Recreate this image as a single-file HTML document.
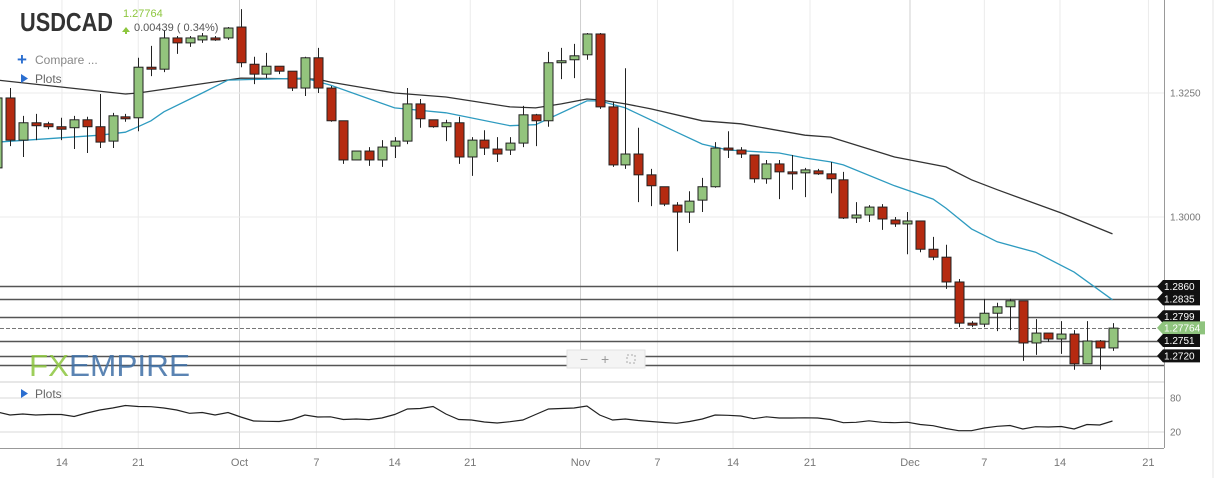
<!DOCTYPE html>
<html><head><meta charset="utf-8"><style>
html,body{margin:0;padding:0;background:#fff;}
svg{display:block;font-family:"Liberation Sans",sans-serif;}
</style></head><body>
<svg id="chart" width="1216" height="478" viewBox="0 0 1216 478" xmlns="http://www.w3.org/2000/svg">
<g id="grid"></g>
<g id="levels"></g>
<g id="ma"></g>
<g id="candles"></g>
<g id="osc"></g>
<g id="axes"></g>
<g>
  <text x="20" y="31" font-size="26" font-weight="bold" fill="#333" textLength="93" lengthAdjust="spacingAndGlyphs">USDCAD</text>
  <text x="123" y="17" font-size="11" fill="#8dc63f">1.27764</text>
  <polygon points="122,32 126,27 130,32" fill="#8dc63f"/>
  <rect x="125" y="31" width="2" height="3" fill="#8dc63f"/>
  <text x="134" y="31" font-size="11" fill="#555">0.00439 ( 0.34%)</text>
  <g>
    <text x="17" y="65" font-size="17" fill="#2a6ed0" font-weight="bold">+</text>
    <text x="35" y="64" font-size="12" fill="#888">Compare ...</text>
  </g>
  <g>
    <polygon points="21,74 21,83 28,78.5" fill="#2a6ed0"/>
    <text x="35" y="83" font-size="12" fill="#666">Plots</text>
  </g>
</g>
<g opacity="0.85">
  <text x="29" y="376" font-size="31" fill="#8dc63f" textLength="40" lengthAdjust="spacingAndGlyphs">FX</text>
  <text x="69" y="376" font-size="31" fill="#3f6fa6" textLength="121" lengthAdjust="spacingAndGlyphs">EMPIRE</text>
</g>
<g>
  <rect x="567" y="350" width="78" height="18" fill="#f4f4f4" stroke="#e2e2e2"/>
  <text x="580" y="364" font-size="14" fill="#999">−</text>
  <text x="601" y="364" font-size="14" fill="#999">+</text>
  <rect x="627" y="355" width="8" height="8" fill="none" stroke="#aaa" stroke-dasharray="2,2"/>
</g>
<g>
  <polygon points="21,389 21,398 28,393.5" fill="#2a6ed0"/>
  <text x="35" y="398" font-size="12" fill="#666">Plots</text>
</g>
</svg>
<script>
const opens=[1.3099,1.3240,1.3155,1.3190,1.3188,1.3182,1.3180,1.3196,1.3182,1.3153,1.3202,1.3200,1.3302,1.3298,1.3361,1.3351,1.3357,1.3361,1.3361,1.3383,1.3308,1.3288,1.3304,1.3294,1.3260,1.3321,1.3260,1.3194,1.3115,1.3133,1.3115,1.3143,1.3153,1.3228,1.3196,1.3182,1.3190,1.3121,1.3155,1.3137,1.3135,1.3149,1.3206,1.3194,1.3311,1.3317,1.3327,1.3369,1.3222,1.3105,1.3127,1.3085,1.3061,1.3024,1.3010,1.3034,1.3061,1.3139,1.3135,1.3125,1.3077,1.3107,1.3091,1.3089,1.3093,1.3087,1.3075,1.2998,1.3004,1.3020,1.2994,1.2986,1.2992,1.2935,1.2919,1.2869,1.2786,1.2784,1.2806,1.2819,1.2831,1.2746,1.2766,1.2754,1.2764,1.2704,1.2750,1.2736];
const highs=[1.3244,1.3260,1.3204,1.3208,1.3192,1.3200,1.3204,1.3202,1.3248,1.3210,1.3208,1.3321,1.3345,1.3377,1.3365,1.3365,1.3371,1.3365,1.3383,1.3419,1.3323,1.3331,1.3304,1.3294,1.3323,1.3341,1.3264,1.3194,1.3133,1.3141,1.3155,1.3161,1.3260,1.3238,1.3196,1.3196,1.3202,1.3161,1.3175,1.3161,1.3161,1.3224,1.3208,1.3333,1.3341,1.3349,1.3371,1.3371,1.3232,1.3300,1.3180,1.3097,1.3061,1.3030,1.3052,1.3079,1.3151,1.3173,1.3141,1.3125,1.3115,1.3115,1.3125,1.3099,1.3097,1.3111,1.3091,1.3030,1.3024,1.3026,1.3000,1.3010,1.2992,1.2960,1.2944,1.2875,1.2790,1.2835,1.2827,1.2835,1.2831,1.2794,1.2766,1.2790,1.2772,1.2790,1.2752,1.2786];
const lows=[1.3095,1.3143,1.3121,1.3155,1.3177,1.3155,1.3137,1.3129,1.3139,1.3139,1.3192,1.3173,1.3284,1.3292,1.3329,1.3343,1.3351,1.3355,1.3357,1.3302,1.3268,1.3280,1.3288,1.3254,1.3244,1.3250,1.3192,1.3107,1.3115,1.3103,1.3101,1.3119,1.3147,1.3180,1.3180,1.3153,1.3107,1.3083,1.3125,1.3111,1.3125,1.3141,1.3143,1.3182,1.3278,1.3280,1.3317,1.3218,1.3101,1.3097,1.3030,1.3022,1.3022,1.2931,1.2988,1.3010,1.3059,1.3119,1.3119,1.3069,1.3067,1.3036,1.3055,1.3040,1.3085,1.3048,1.2996,1.2988,1.2990,1.2974,1.2980,1.2925,1.2929,1.2913,1.2855,1.2778,1.2778,1.2778,1.2770,1.2772,1.2710,1.2722,1.2748,1.2724,1.2692,1.2704,1.2692,1.2730];
const closes=[1.3240,1.3155,1.3190,1.3184,1.3182,1.3177,1.3196,1.3182,1.3151,1.3204,1.3198,1.3302,1.3298,1.3361,1.3351,1.3361,1.3365,1.3357,1.3381,1.3311,1.3288,1.3304,1.3294,1.3260,1.3321,1.3260,1.3194,1.3115,1.3133,1.3115,1.3141,1.3153,1.3228,1.3198,1.3182,1.3190,1.3121,1.3155,1.3139,1.3127,1.3149,1.3206,1.3194,1.3311,1.3315,1.3325,1.3369,1.3222,1.3105,1.3127,1.3085,1.3063,1.3026,1.3010,1.3032,1.3061,1.3139,1.3135,1.3127,1.3077,1.3107,1.3091,1.3087,1.3095,1.3087,1.3077,1.2998,1.3004,1.3020,1.2996,1.2986,1.2992,1.2935,1.2919,1.2869,1.2786,1.2782,1.2806,1.2819,1.2831,1.2746,1.2766,1.2754,1.2764,1.2704,1.2750,1.2736,1.2776];
const maSlowIdx=[0,10,11,19,25,26,31,35,40,42,44,46,47,49,51,55,58,63,65,70,74,76,78,83,87];
const maSlowVal=[1.3276,1.3248,1.3250,1.3280,1.3278,1.3272,1.3250,1.3242,1.3222,1.3220,1.3228,1.3238,1.3236,1.3228,1.3218,1.3194,1.3188,1.3165,1.3161,1.3121,1.3101,1.3075,1.3055,1.3008,1.2966];
const maFastIdx=[0,8,10,11,12,13,16,18,24,26,31,35,40,42,46,47,49,53,55,57,61,63,65,66,70,73,74,76,78,81,84,87];
const maFastVal=[1.3151,1.3165,1.3171,1.3182,1.3194,1.3212,1.3250,1.3276,1.3280,1.3266,1.3220,1.3210,1.3184,1.3186,1.3234,1.3234,1.3220,1.3171,1.3147,1.3135,1.3129,1.3119,1.3111,1.3105,1.3063,1.3036,1.3018,1.2976,1.2950,1.2929,1.2889,1.2833];
const oscVals=[55.3,50.0,51.8,50.0,50.9,50.9,47.4,53.5,58.8,62.4,66.8,65.0,64.6,62.4,58.8,53.0,54.4,50.0,54.4,46.5,39.4,38.9,38.5,42.1,50.0,46.5,46.8,42.1,42.9,41.9,44.7,50.9,60.6,61.5,65.0,51.8,42.1,41.2,37.6,35.9,38.2,41.2,50.9,60.6,61.5,62.4,65.9,50.0,41.2,42.9,40.3,38.5,36.8,35.4,38.5,42.9,50.0,49.5,48.2,43.5,46.8,44.7,44.7,45.1,44.7,42.1,36.4,37.1,39.8,37.1,36.4,37.3,33.2,31.1,26.2,22.3,22.3,27.1,30.1,31.5,25.3,29.4,28.8,29.7,25.3,33.2,32.4,39.4];
const levelVals=[1.2860,1.2835,1.2799,1.27764,1.2751,1.2720];
const levelLabels=["1.2860","1.2835","1.2799","1.27764","1.2751","1.2720"];
const priceTicks=[1.3250,1.3000];
const priceTickLabels=["1.3250","1.3000"];
const oscTicks=[80,20];
const dateTickIdx=[5.05,11,18.9,24.9,31,36.9,45.5,51.5,57.4,63.4,71.2,77,82.9,89.8];
const dateTickLabels=["14","21","Oct","7","14","21","Nov","7","14","21","Dec","7","14","21"];
const monthTicks=["Oct","Nov","Dec"];

const NS="http://www.w3.org/2000/svg";
const xs=i=>-2.8+12.82*i;
const ys=p=>217-(p-1.3)*4960;
const yo=v=>432-(v-20)*0.5667;
const AX=1164;
function mk(tag,attrs,parent){const e=document.createElementNS(NS,tag);for(const k in attrs)e.setAttribute(k,attrs[k]);parent.appendChild(e);return e;}
const G=id=>document.getElementById(id);

const grid=G('grid');
dateTickIdx.forEach((t,k)=>{
  const x=xs(t);
  const l=mk('line',{x1:x,x2:x,y1:0,y2:448,stroke:monthTicks.includes(dateTickLabels[k])?'#d0d0d0':'#ebebeb','stroke-width':1},grid);
  
  
});
mk('line',{x1:1213,x2:1213,y1:0,y2:478,stroke:'#e6e6e6'},grid);
priceTicks.forEach(p=>{
  const l=mk('line',{x1:0,x2:AX,y1:ys(p),y2:ys(p),stroke:'#ebebeb'},grid);
  
  
});
oscTicks.forEach(v=>{
  const l=mk('line',{x1:0,x2:AX,y1:yo(v),y2:yo(v),stroke:'#d8d8d8'},grid);
  
  
});
mk('line',{x1:0,x2:AX,y1:382,y2:382,stroke:'#cfcfcf'},grid);

const lv=G('levels');
levelVals.forEach((p,k)=>{
  const y=Math.round(ys(p))+0.5;
  const cur=k===3;
  const l=mk('line',{x1:0,x2:AX,y1:y,y2:y,stroke:cur?'#777':'#555','stroke-width':cur?1:1.5,'stroke-dasharray':cur?'4,2':'none'},lv);
  
  
});
mk('line',{x1:0,x2:AX,y1:365.5,y2:365.5,stroke:'#555','stroke-width':1.5},lv);

const ma=G('ma');
function poly(idx,vals,color,name){
  const pts=idx.map((i,k)=>xs(i).toFixed(1)+','+ys(vals[k]).toFixed(1)).join(' ');
  const p=mk('polyline',{points:pts,fill:'none',stroke:color,'stroke-width':1.3},ma);
  
  
}
poly(maSlowIdx,maSlowVal,'#333','ma-slow-line');
poly(maFastIdx,maFastVal,'#2e9bc0','ma-fast-line');

const cg=G('candles');
opens.forEach((o,i)=>{
  const c=closes[i],x=Math.round(xs(i))+0.5;
  const up=c>=o;
  const g=mk('g',{},cg);
  
  
  mk('line',{x1:x,x2:x,y1:ys(highs[i]),y2:ys(lows[i]),stroke:'#222','stroke-width':1},g);
  const top=ys(Math.max(o,c)),bot=ys(Math.min(o,c));
  mk('rect',{x:x-4.5,y:top,width:9,height:Math.max(bot-top,1.5),fill:up?'#93c47d':'#b52a10',stroke:'#222','stroke-width':1},g);
});

const og=G('osc');
const op=mk('polyline',{points:oscVals.map((v,i)=>xs(i).toFixed(1)+','+yo(v).toFixed(1)).join(' '),fill:'none',stroke:'#222','stroke-width':1.2},og);



const ax=G('axes');
mk('line',{x1:AX+0.5,x2:AX+0.5,y1:0,y2:448,stroke:'#999'},ax);
mk('line',{x1:0,x2:AX,y1:448.5,y2:448.5,stroke:'#999'},ax);
priceTicks.forEach((p,k)=>{
  const t=mk('text',{x:1170,y:ys(p)+3.5,'font-size':10,fill:'#777'},ax);
  t.textContent=priceTickLabels[k];
  
  
});
oscTicks.forEach(v=>{
  const t=mk('text',{x:1170,y:yo(v)+3.5,'font-size':10,fill:'#777'},ax);
  t.textContent=String(v);
  
  
});
dateTickIdx.forEach((ti,k)=>{
  const t=mk('text',{x:xs(ti),y:466,'font-size':11,fill:'#777','text-anchor':'middle'},ax);
  t.textContent=dateTickLabels[k];
  
  
});
levelVals.forEach((p,k)=>{
  const y=ys(p),cur=k===3;
  const w=cur?48:43;
  const g=mk('g',{},ax);
  
  
  mk('path',{d:`M1157,${y} L1163,${y-6.5} L${1157+w},${y-6.5} L${1157+w},${y+6.5} L1163,${y+6.5} Z`,fill:cur?'#8fc47e':'#111'},g);
  const t=mk('text',{x:1164,y:y+3.5,'font-size':10,fill:'#fff'},g);
  t.textContent=levelLabels[k];
});
</script>
</body></html>
